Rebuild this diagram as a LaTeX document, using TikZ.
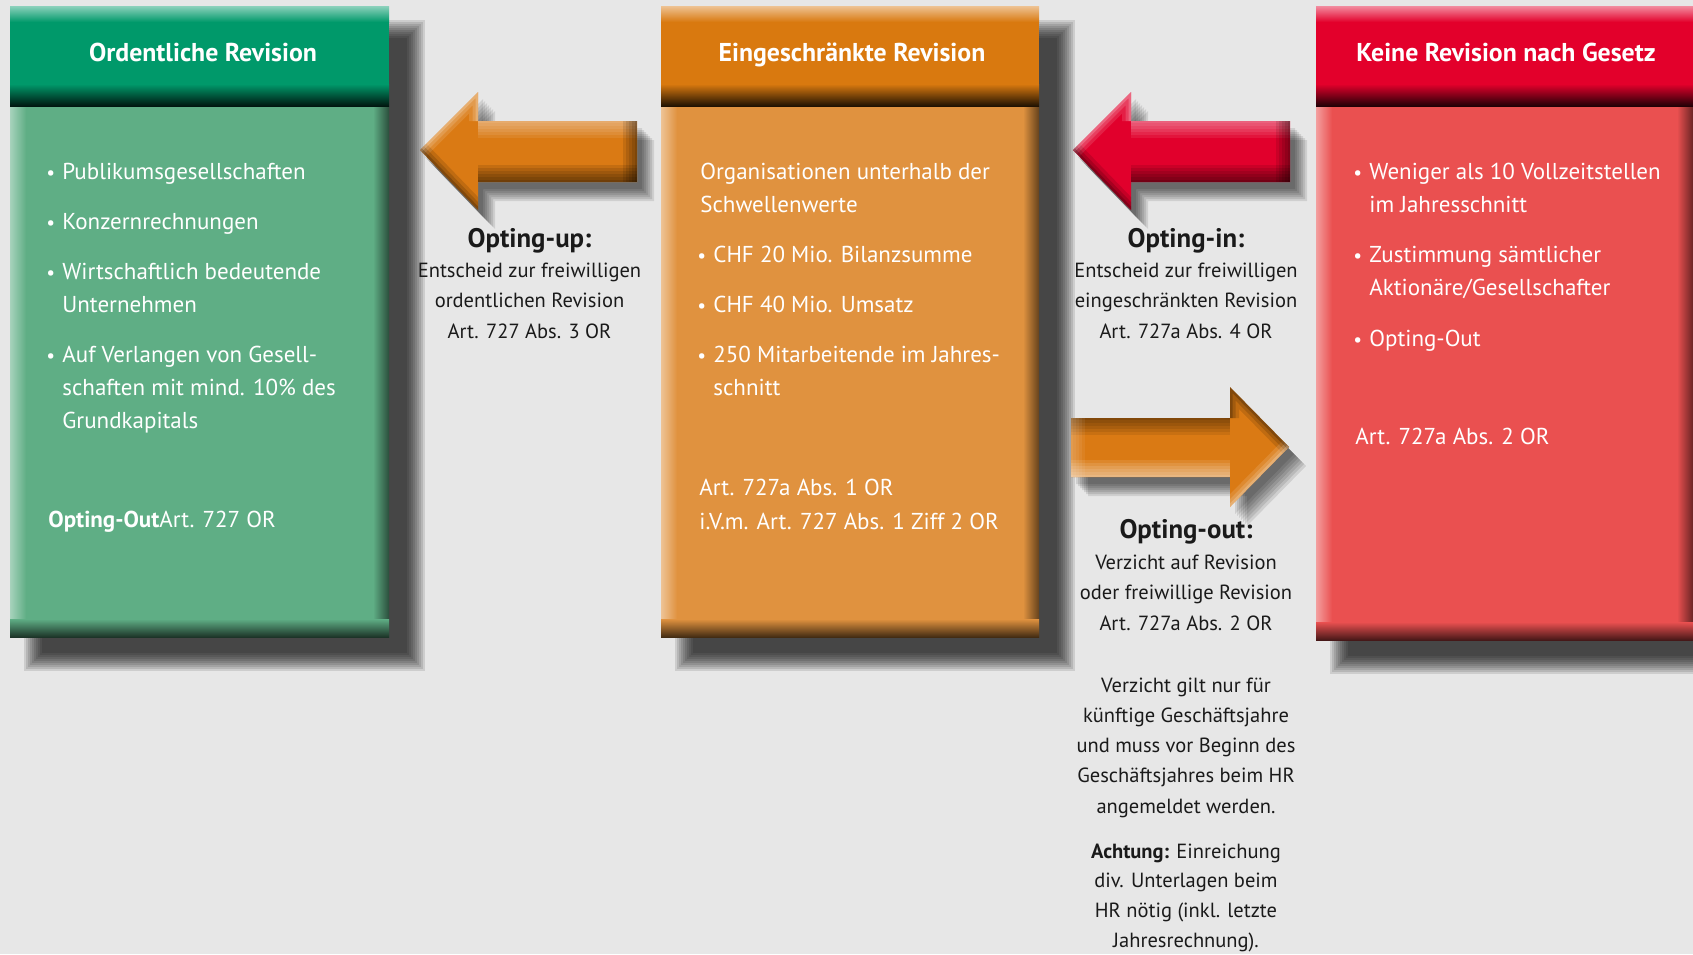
\documentclass[tikz,border=0pt]{standalone}
\usepackage{fontspec}
\setmainfont{PT Sans}
\definecolor{bgc}{HTML}{E7E7E7}
\definecolor{greenH}{HTML}{00996A}
\definecolor{greenB}{HTML}{5FAE85}
\definecolor{orangeH}{HTML}{D9790F}
\definecolor{orangeB}{HTML}{E0923F}
\definecolor{redH}{HTML}{E3002B}
\definecolor{redB}{HTML}{EA5050}
\definecolor{arrO}{HTML}{DA7A14}
\definecolor{arrR}{HTML}{E1002C}
\definecolor{midc}{HTML}{1A1A1A}
\newcommand\bul{\makebox[8pt][l]{\scalebox{0.85}{•}}}
\newcommand\revbox[5]{%
  \fill[#5] (#1,106) rectangle (#2,#3);
  \shade[left color=#5!55!white, right color=#5] (#1,106) rectangle (#1+16,#3);
  \shade[left color=#5, right color=#5!45!black] (#2-16,106) rectangle (#2,#3);
  \shade[top color=#5, bottom color=#5!30!black] (#1,#3-18) rectangle (#2,#3);
  \fill[#4] (#1,6) rectangle (#2,106);
  \shade[top color=#4!45!white, bottom color=#4] (#1,6) rectangle (#2,22);
  \shade[top color=#4, bottom color=#4!15!black] (#1,84) rectangle (#2,106);
}
% #1 x-left of shaft, #2 x-right of shaft, #3 y-top, #4 y-bottom, #5 colour of top band, #6 colour of bottom band
\newcommand\shaftbevel[6]{%
  \foreach \j in {0,...,5} {
    \fill[#5,opacity=0.08] (#1,#3) rectangle (#2,#3+\j*3+2);
    \fill[#6,opacity=0.1] (#1,#4-\j*3-2) rectangle (#2,#4);
  }
}
\begin{document}
\begin{tikzpicture}[x=0.5pt,y=-0.5pt,
  hdr/.style={text=white, font=\bfseries\fontsize{12.9}{15}\selectfont, inner sep=0pt, anchor=base},
  bodytxt/.style={text=white, font=\fontsize{11.5}{14}\selectfont, anchor=base west, inner sep=0pt},
  midhead/.style={text=midc, font=\bfseries\fontsize{13.4}{15}\selectfont, anchor=base, inner sep=0pt},
  midtxt/.style={text=midc, font=\fontsize{10.25}{15}\selectfont, anchor=base, inner sep=0pt}]
\useasboundingbox (0,0) rectangle (1693,954);
\fill[bgc] (0,0) rectangle (1693,954);

% box shadows
\foreach \xa/\xb/\yb in {10/389/637, 661/1039/637, 1316/1693/640} {
  \foreach \k in {0,...,9}
    \fill[black,opacity=0.11] (\xa+14+\k*2, 20+\k*2) rectangle (\xb+36-\k*2, \yb+34-\k*2);
}

% boxes
\revbox{10}{389}{637}{greenH}{greenB}
\revbox{661}{1039}{637}{orangeH}{orangeB}
\revbox{1316}{1693}{640}{redH}{redB}

% arrow shadows
\foreach \k in {0,...,6} {
  \fill[black,opacity=0.1,shift={(5+\k*2,7+\k*2)}]
    (420,150) -- (478,92) -- (478,121) -- (637,121) -- (637,182) -- (478,182) -- (478,210) -- cycle;
  \fill[black,opacity=0.1,shift={(5+\k*2,7+\k*2)}]
    (1073,150) -- (1131,92) -- (1131,121) -- (1290,121) -- (1290,182) -- (1131,182) -- (1131,210) -- cycle;
  \fill[black,opacity=0.1,shift={(5+\k*2,7+\k*2)}]
    (1289,447) -- (1230,387) -- (1230,418) -- (1071,418) -- (1071,477) -- (1230,477) -- (1230,507) -- cycle;
}

% opting-up arrow
\begin{scope}
  \clip (420,150) -- (478,92) -- (478,121) -- (637,121) -- (637,182) -- (478,182) -- (478,210) -- cycle;
  \fill[arrO] (400,80) rectangle (650,220);
  \shaftbevel{478}{637}{121}{182}{white}{black}
  \foreach \j in {0,...,4} \fill[black,opacity=0.1] (637-\j*3-2,121) rectangle (637,182);
  \foreach \w/\o in {18/0.12,11/0.15,5/0.2} {
    \draw[line width=\w*0.5pt, white, opacity=\o] (420,150) -- (478,92) -- (478,121);
    \draw[line width=\w*0.5pt, black, opacity=\o] (420,150) -- (478,210);
  }
\end{scope}

% opting-in arrow
\begin{scope}
  \clip (1073,150) -- (1131,92) -- (1131,121) -- (1290,121) -- (1290,182) -- (1131,182) -- (1131,210) -- cycle;
  \fill[arrR] (1060,80) rectangle (1300,220);
  \shaftbevel{1131}{1290}{121}{182}{white}{black}
  \foreach \j in {0,...,4} \fill[black,opacity=0.1] (1290-\j*3-2,121) rectangle (1290,182);
  \foreach \w/\o in {18/0.12,11/0.15,5/0.2} {
    \draw[line width=\w*0.5pt, white, opacity=\o] (1073,150) -- (1131,92) -- (1131,121);
    \draw[line width=\w*0.5pt, black, opacity=\o] (1073,150) -- (1131,210);
  }
\end{scope}

% opting-out arrow
\begin{scope}
  \clip (1289,447) -- (1230,387) -- (1230,418) -- (1071,418) -- (1071,477) -- (1230,477) -- (1230,507) -- cycle;
  \fill[arrO] (1060,380) rectangle (1300,515);
  \shaftbevel{1071}{1230}{418}{477}{black}{white}
  \foreach \j in {0,...,4} \fill[white,opacity=0.06] (1071,418) rectangle (1071+\j*3+2,477);
  \foreach \w/\o in {18/0.12,11/0.15,5/0.2} {
    \draw[line width=\w*0.5pt, black, opacity=\o] (1230,418) -- (1230,387) -- (1289,447);
    \draw[line width=\w*0.5pt, white, opacity=\o] (1289,447) -- (1230,507);
  }
\end{scope}

% headers
\node[hdr] (hG) at (203,61) {Ordentliche Revision};
\node[hdr] (hO) at (852,61) {Eingeschränkte Revision};
\node[hdr] (hR) at (1506,61) {Keine Revision nach Gesetz};

% green body
\node[bodytxt] (g1) at (46,179) {\bul Publikumsgesellschaften};
\node[bodytxt] (g2) at (46,229) {\bul Konzernrechnungen};
\node[bodytxt] (g3) at (46,279) {\bul Wirtschaftlich bedeutende};
\node[bodytxt] (g4) at (62,312) {Unternehmen};
\node[bodytxt] (g5) at (46,362) {\bul Auf Verlangen von Gesell-};
\node[bodytxt] (g6) at (62,395) {schaften mit mind. 10\% des};
\node[bodytxt] (g7) at (62,428) {Grundkapitals};
\node[bodytxt] (g8) at (48,527) {\textbf{Opting-Out}Art. 727 OR};

% orange body
\node[bodytxt] (o1) at (700,179) {Organisationen unterhalb der};
\node[bodytxt] (o2) at (700,212) {Schwellenwerte};
\node[bodytxt] (o3) at (697,262) {\bul CHF 20 Mio. Bilanzsumme};
\node[bodytxt] (o4) at (697,312) {\bul CHF 40 Mio. Umsatz};
\node[bodytxt] (o5) at (697,362) {\bul 250 Mitarbeitende im Jahres-};
\node[bodytxt] (o6) at (713,395) {schnitt};
\node[bodytxt] (o7) at (699,495) {Art. 727a Abs. 1 OR};
\node[bodytxt] (o8) at (699,529) {i.V.m. Art. 727 Abs. 1 Ziff 2 OR};

% red body
\node[bodytxt] (r1) at (1353,179) {\bul Weniger als 10 Vollzeitstellen};
\node[bodytxt] (r2) at (1369,212) {im Jahresschnitt};
\node[bodytxt] (r3) at (1353,262) {\bul Zustimmung sämtlicher};
\node[bodytxt] (r4) at (1369,295) {Aktionäre/Gesellschafter};
\node[bodytxt] (r5) at (1353,346) {\bul Opting-Out};
\node[bodytxt] (r6) at (1355,444) {Art. 727a Abs. 2 OR};

% middle texts
\node[midhead] (upH) at (529.5,247) {Opting-up:};
\foreach \t [count=\i] in {{Entscheid zur freiwilligen},{ordentlichen Revision},{Art. 727 Abs. 3 OR}}
  \node[midtxt] (up\i) at (529.5,{277+(\i-1)*30.5}) {\t};

\node[midhead] (inH) at (1186,247) {Opting-in:};
\foreach \t [count=\i] in {{Entscheid zur freiwilligen},{eingeschränkten Revision},{Art. 727a Abs. 4 OR}}
  \node[midtxt] (in\i) at (1186,{277+(\i-1)*30.5}) {\t};

\node[midhead] (outH) at (1186,538) {Opting-out:};
\foreach \t [count=\i] in {{Verzicht auf Revision},{oder freiwillige Revision},{Art. 727a Abs. 2 OR}}
  \node[midtxt] (out\i) at (1186,{569+(\i-1)*30.5}) {\t};

\foreach \t [count=\i] in {{Verzicht gilt nur für},{künftige Geschäftsjahre},{und muss vor Beginn des},{Geschäftsjahres beim HR},{angemeldet werden.}}
  \node[midtxt] (vz\i) at (1186,{692+(\i-1)*30.3}) {\t};

\foreach \t [count=\i] in {{\textbf{Achtung:} Einreichung},{div. Unterlagen beim},{HR nötig (inkl. letzte},{Jahresrechnung).}}
  \node[midtxt] (ac\i) at (1186,{858+(\i-1)*29.7}) {\t};
\end{tikzpicture}
\end{document}
